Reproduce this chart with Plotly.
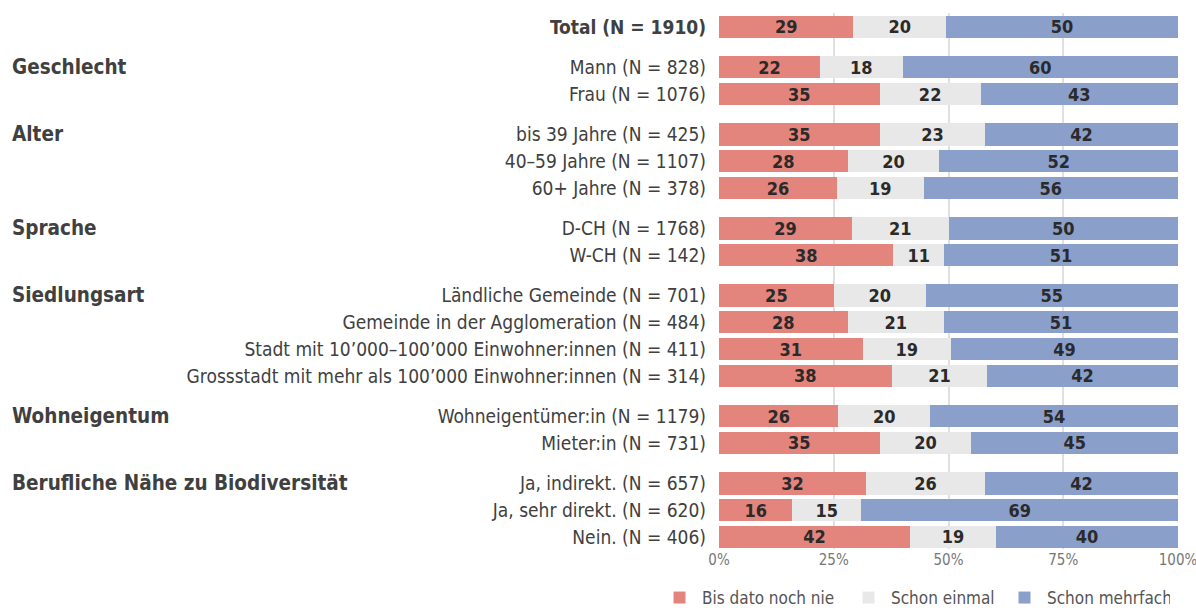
import plotly.graph_objects as go

labels = [
    "<b>Total (N = 1910)</b>",
    "Mann (N = 828)", "Frau (N = 1076)",
    "bis 39 Jahre (N = 425)", "40–59 Jahre (N = 1107)", "60+ Jahre (N = 378)",
    "D-CH (N = 1768)", "W-CH (N = 142)",
    "Ländliche Gemeinde (N = 701)", "Gemeinde in der Agglomeration (N = 484)",
    "Stadt mit 10’000–100’000 Einwohner:innen (N = 411)",
    "Grossstadt mit mehr als 100’000 Einwohner:innen (N = 314)",
    "Wohneigentümer:in (N = 1179)", "Mieter:in (N = 731)",
    "Ja, indirekt. (N = 657)", "Ja, sehr direkt. (N = 620)", "Nein. (N = 406)",
]
positions = [0, 1.5, 2.5, 4, 5, 6, 7.5, 8.5, 10, 11, 12, 13, 14.5, 15.5, 17, 18, 19]
groups = ["Geschlecht", "Alter", "Sprache", "Siedlungsart", "Wohneigentum",
          "Berufliche Nähe zu Biodiversität"]
group_pos = [1.5, 4, 7.5, 10, 14.5, 17]

nie = [29, 22, 35, 35, 28, 26, 29, 38, 25, 28, 31, 38, 26, 35, 32, 16, 42]
einmal = [20, 18, 22, 23, 20, 19, 21, 11, 20, 21, 19, 21, 20, 20, 26, 15, 19]
mehrfach = [50, 60, 43, 42, 52, 56, 50, 51, 55, 51, 49, 42, 54, 45, 42, 69, 40]

series = [("Bis dato noch nie", nie, "#E3847D", 139),
          ("Schon einmal", einmal, "#E8E8E8", 106),
          ("Schon mehrfach", mehrfach, "#8A9FCA", 118)]

FONT = "DejaVu Sans Condensed, DejaVu Sans, sans-serif"

W, H = 1196, 608
L, R, T, B = 719, 18, 13, 59
PW = W - L - R
PH = H - T - B

fig = go.Figure()
for name, vals, col, lw in series:
    fig.add_trace(go.Bar(
        x=vals, y=positions, orientation="h", name=name,
        marker=dict(color=col, line=dict(width=0)),
        text=vals, texttemplate="<b>%{text}</b>", textposition="inside",
        insidetextanchor="middle", constraintext="none",
        textfont=dict(color="#2a2a2a", size=18, family=FONT),
        width=0.84, hoverinfo="skip", legendwidth=lw,
    ))

for g, p in zip(groups, group_pos):
    fig.add_annotation(text="<b>" + g + "</b>", x=(10 - L) / PW, xref="paper",
                       y=p, yref="y", xanchor="left", yanchor="middle",
                       showarrow=False, font=dict(size=20.5, color="#404040", family=FONT))

fig.update_layout(
    barmode="stack", barnorm="percent",
    width=W, height=H,
    margin=dict(l=L, r=R, t=T, b=B, autoexpand=False),
    plot_bgcolor="white", paper_bgcolor="white",
    font=dict(family=FONT, color="#404040"),
    showlegend=True,
    legend=dict(orientation="h", xref="paper", yref="paper",
                x=(657 - L) / PW, xanchor="left",
                y=(H - B - 598) / PH, yanchor="middle",
                font=dict(size=17, color="#555555", family=FONT),
                traceorder="normal", itemwidth=35),
    xaxis=dict(range=[0, 100], tickvals=[0, 25, 50, 75, 100],
               ticktext=["0%", "25%", "50%", "75%", "100%"],
               showgrid=True, gridcolor="#E0E0E0", gridwidth=1.5,
               zeroline=False, showline=False, automargin=False,
               ticklabeloverflow="allow",
               tickfont=dict(size=15, color="#777777", family=FONT)),
    yaxis=dict(range=[19.45, -0.52], tickvals=positions, ticktext=labels,
               showgrid=False, zeroline=False, showline=False, automargin=False,
               ticklabelstandoff=12,
               tickfont=dict(size=19, color="#404040", family=FONT)),
)

fig.write_html(
    "out.html",
    config={"displayModeBar": False},
    post_script="document.body.style.margin='0';document.body.style.overflow='hidden';",
)
